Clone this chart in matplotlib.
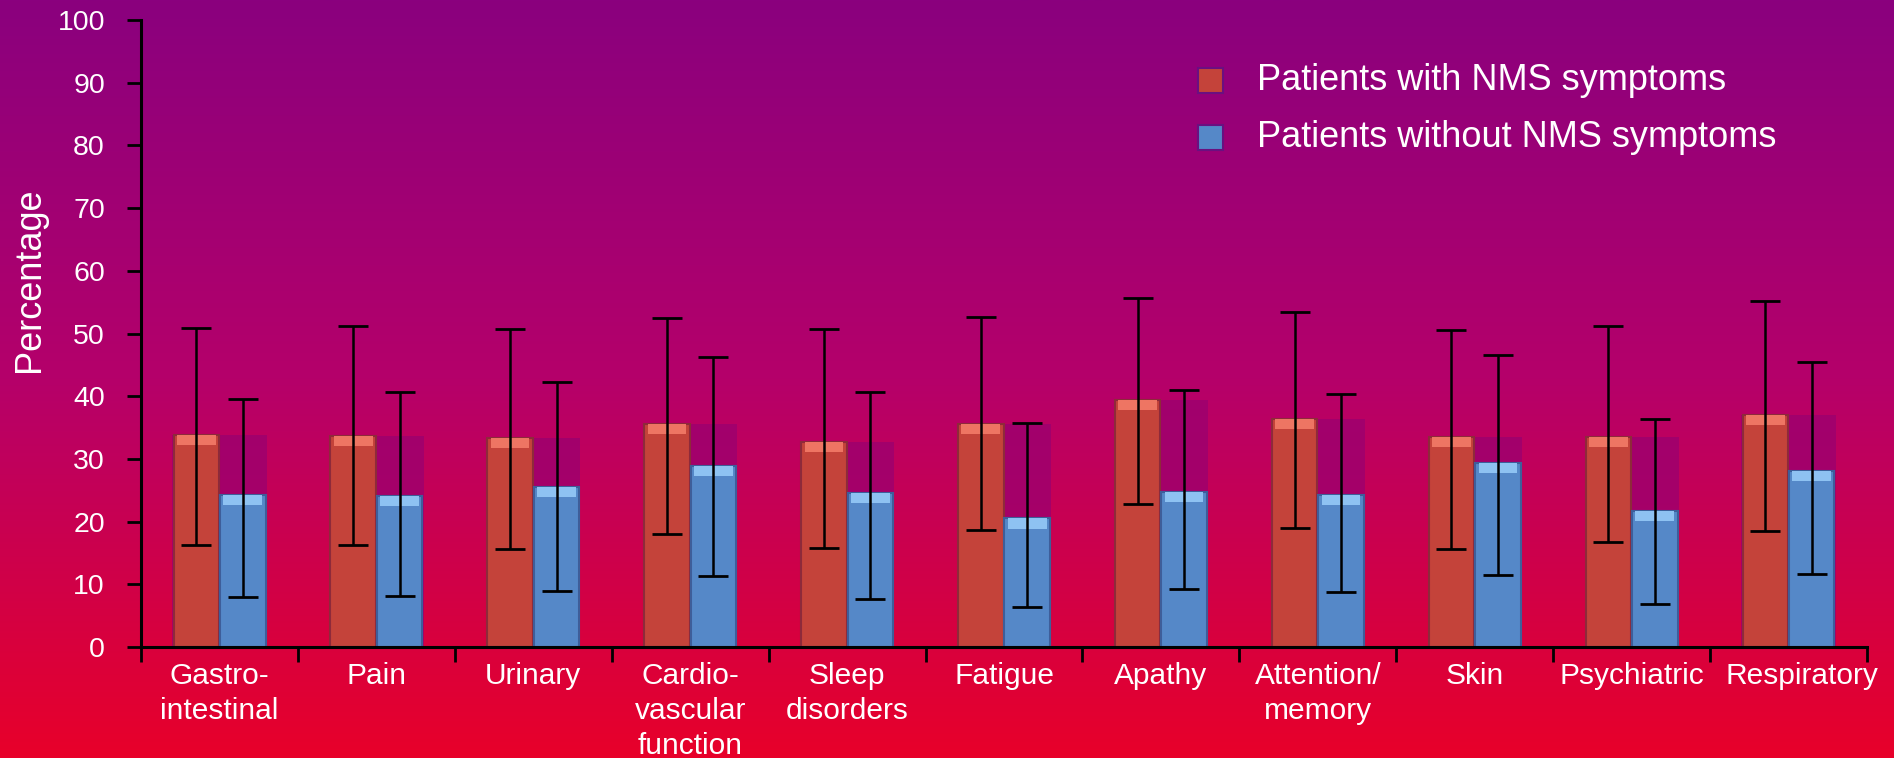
import matplotlib.pyplot as plt
import matplotlib.transforms as mtransforms
import numpy as np
from matplotlib.colors import LinearSegmentedColormap
from matplotlib.patches import Rectangle

plt.rcParams['font.family'] = ['Liberation Sans', 'DejaVu Sans']

# NMS domain scores
categories = ['Gastro-\nintestinal', 'Pain', 'Urinary', 'Cardio-\nvascular\nfunction',
              'Sleep\ndisorders', 'Fatigue', 'Apathy', 'Attention/\nmemory', 'Skin',
              'Psychiatric', 'Respiratory']
with_nms = [33.8, 33.7, 33.4, 35.6, 32.7, 35.5, 39.4, 36.3, 33.5, 33.5, 37.0]
with_nms_hi = [50.9, 51.2, 50.8, 52.4, 50.8, 52.6, 55.7, 53.4, 50.6, 51.2, 55.2]
with_nms_lo = [16.3, 16.3, 15.6, 18.0, 15.8, 18.6, 22.8, 19.0, 15.6, 16.7, 18.5]
without_nms = [24.2, 24.1, 25.5, 28.9, 24.5, 20.5, 24.8, 24.2, 29.3, 21.7, 28.0]
without_nms_hi = [39.6, 40.7, 42.2, 46.2, 40.6, 35.8, 41.0, 40.3, 46.6, 36.4, 45.5]
without_nms_lo = [8.0, 8.2, 9.0, 11.4, 7.7, 6.4, 9.25, 8.8, 11.5, 6.9, 11.6]
yticks = np.arange(0, 101, 10)

fig = plt.figure(figsize=(18.94, 7.58), dpi=100)

# vertical purple-to-red background
bg = fig.add_axes([0, 0, 1, 1], zorder=-1)
cmap = LinearSegmentedColormap.from_list('bg', ['#8A007E', '#B5006A', '#E8002A'])
bg.imshow(np.linspace(0, 1, 256).reshape(-1, 1), aspect='auto', cmap=cmap,
          extent=[0, 1, 0, 1])
bg.axis('off')

ax = fig.add_axes([0.0745, 0.1464, 0.9112, 0.8272])
ax.set_facecolor('none')

x = np.arange(len(categories))
bw = 0.29
off = 0.148

# darker box behind each pair at the height of the NMS bar
ax.bar(x, with_nms, width=2 * bw + 0.02, color='#9A0070', alpha=0.75, zorder=1)

ax.bar(x - off, with_nms, width=bw, color='#C4433A', edgecolor='#8E2A3A',
       linewidth=1.5, zorder=2)
ax.bar(x + off, without_nms, width=bw, color='#5588C8', edgecolor='#3E5E9A',
       linewidth=1.5, zorder=2)
# light bevel on bar tops
ax.bar(x - off, [1.6] * len(x), bottom=np.array(with_nms) - 1.6, width=bw * 0.85,
       color='#EE7563', zorder=3)
ax.bar(x + off, [1.6] * len(x), bottom=np.array(without_nms) - 1.6, width=bw * 0.85,
       color='#8EC2F2', zorder=3)

w = np.array(with_nms)
wo = np.array(without_nms)
ax.errorbar(x - off, w, yerr=[w - np.array(with_nms_lo), np.array(with_nms_hi) - w],
            fmt='none', ecolor='black', elinewidth=1.8, capsize=11, capthick=2, zorder=4)
ax.errorbar(x + off, wo, yerr=[wo - np.array(without_nms_lo), np.array(without_nms_hi) - wo],
            fmt='none', ecolor='black', elinewidth=1.8, capsize=11, capthick=2, zorder=4)

ax.set_xlim(-0.5, len(categories) - 0.5)
ax.set_ylim(0, 100)
ax.set_yticks(yticks)
ax.tick_params(axis='y', colors='black', labelcolor='white', labelsize=20.5,
               length=10, width=2, pad=16)
ax.set_xticks(x)
ax.set_xticklabels(categories, color='white', fontsize=21.5, linespacing=1.3)
ax.set_xticks(np.arange(len(categories) + 1) - 0.5, minor=True)
ax.tick_params(axis='x', which='major', length=0, pad=11)
ax.tick_params(axis='x', which='minor', length=11, width=2, colors='black')
# last label sits a little right of its slot
last = ax.get_xticklabels()[-1]
last.set_transform(last.get_transform() +
                   mtransforms.ScaledTranslation(0.13, 0, fig.dpi_scale_trans))
for s in ['top', 'right']:
    ax.spines[s].set_visible(False)
for s in ['left', 'bottom']:
    ax.spines[s].set_linewidth(2.2)
    ax.spines[s].set_color('black')

fig.text(30 / 1894, 1 - 280 / 758, 'Percentage', rotation=90, color='white', fontsize=26,
         ha='center', va='center')

# legend
for yy, fc, label in [(0.904, '#C4433A', 'Patients with NMS symptoms'),
                      (0.812, '#5588C8', 'Patients without NMS symptoms')]:
    ax.add_patch(Rectangle((0.6124, yy - 0.02), 0.0145, 0.04, transform=ax.transAxes,
                           facecolor=fc, edgecolor='#6A1080', linewidth=1.5, zorder=5))
    ax.text(0.6466, yy, label, transform=ax.transAxes, color='white',
            fontsize=26, va='center', ha='left')

fig.savefig('out.png', dpi=100)
